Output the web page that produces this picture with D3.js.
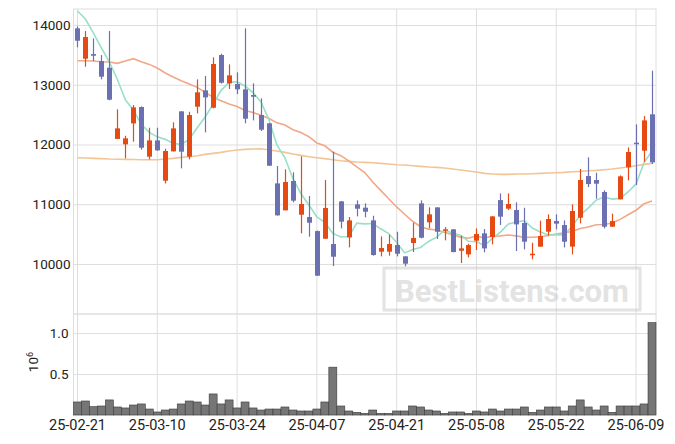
<!DOCTYPE html>
<html><head><meta charset="utf-8">
<script src="https://cdn.jsdelivr.net/npm/d3@7"></script>
<style>
html,body{margin:0;padding:0;background:#fff;}
svg{display:block;font-family:Roboto,"Noto Sans",sans-serif;}
</style></head>
<body><svg id="c" width="675" height="444"></svg>
<script>
const dates = ["2025-02-21","2025-02-24","2025-02-25","2025-02-26","2025-02-27","2025-02-28",
"2025-03-04","2025-03-05","2025-03-06","2025-03-07","2025-03-10","2025-03-11","2025-03-12","2025-03-13","2025-03-14",
"2025-03-17","2025-03-18","2025-03-19","2025-03-20","2025-03-21","2025-03-24","2025-03-25","2025-03-26","2025-03-27","2025-03-28",
"2025-03-31","2025-04-01","2025-04-02","2025-04-03","2025-04-04","2025-04-07","2025-04-08","2025-04-09","2025-04-10","2025-04-11",
"2025-04-14","2025-04-15","2025-04-16","2025-04-17","2025-04-18","2025-04-21","2025-04-22","2025-04-23","2025-04-24","2025-04-25",
"2025-04-28","2025-04-29","2025-04-30","2025-05-02","2025-05-07","2025-05-08","2025-05-09","2025-05-12","2025-05-13","2025-05-14",
"2025-05-15","2025-05-16","2025-05-19","2025-05-20","2025-05-21","2025-05-22","2025-05-23","2025-05-26","2025-05-27","2025-05-28",
"2025-05-29","2025-05-30","2025-06-02","2025-06-04","2025-06-05","2025-06-09","2025-06-10","2025-06-11"];

const open = [13944,13436,13514,13397,13285,12093,12003,12353,12627,11796,12069,11394,11885,12555,11796,
12633,12906,12616,13498,13023,13012,12923,12828,12493,12354,11349,10898,11389,10825,10786,10551,10423,10334,11048,10445,
10998,10942,10730,10206,10206,10317,10128,10351,11015,10697,10948,10560,10580,10222,10161,10390,10513,10451,11070,10926,
10903,10686,10150,10290,10540,10719,10652,10290,10775,11472,11405,11205,10624,11082,11618,12030,11896,12505];
const high = [13977,13899,13776,13497,13899,12588,12147,12660,12638,12281,12281,11930,12371,12555,12549,
13090,13146,13459,13520,13341,13208,13944,13024,12772,12360,11640,11584,11534,11801,11137,10560,11405,11880,11055,10786,
11065,11015,10808,10462,10490,10540,10128,10691,11065,10948,10948,10618,10585,10473,10339,10596,10585,10800,11182,11182,
11032,10942,10356,10725,10831,10831,10730,10998,11590,11785,11528,11233,10842,11483,11952,12337,12476,13236];
const low = [13626,13302,13397,13090,12740,12093,11768,12047,11913,11751,11895,11349,11885,11601,11751,
12521,12203,12605,13020,12929,12845,12354,12404,12226,11640,10810,10898,11032,10513,10457,9800,10423,9966,10596,10278,
10797,10781,10139,10128,10139,10128,9960,10200,10429,10596,10418,10396,10195,10016,10111,10234,10195,10329,10652,10903,
10217,10245,10078,10290,10473,10580,10278,10161,10680,11288,11093,10596,10624,11082,11400,11322,11712,11673];
const close = [13737,13799,13486,13135,12750,12270,12103,12621,11946,12069,11902,11891,12270,11880,12493,
12873,12789,13347,13034,13157,12923,12432,12800,12248,11645,10814,11372,11060,11004,10691,9804,10937,10122,10708,10730,
10925,10875,10150,10267,10334,10172,10005,10435,10440,10831,10540,10580,10200,10261,10317,10502,10261,10797,10792,11004,
10663,10373,10172,10468,10753,10675,10373,10887,11405,11338,11344,10624,10719,11467,11874,12014,12404,11701];
const volume = [0.159,0.171,0.102,0.110,0.184,0.098,0.086,0.122,0.135,0.073,0.037,0.061,0.073,0.135,0.171,
0.159,0.122,0.257,0.135,0.184,0.086,0.159,0.086,0.061,0.073,0.073,0.098,0.061,0.049,0.049,0.073,0.159,0.584,0.110,0.049,
0.033,0.020,0.061,0.020,0.020,0.049,0.049,0.110,0.098,0.061,0.049,0.020,0.037,0.037,0.020,0.049,0.037,0.073,0.049,0.073,
0.073,0.098,0.033,0.061,0.098,0.098,0.049,0.110,0.184,0.098,0.061,0.110,0.033,0.110,0.110,0.110,0.135,1.127];
const ma5 = [14234,14100,13866,13615,13381,13088,12749,12576,12338,12202,12128,12086,12016,12002,12087,
12281,12461,12676,12907,13040,13050,12979,12869,12712,12410,11988,11776,11428,11179,10988,10786,10699,10512,10452,10460,
10684,10672,10678,10589,10510,10360,10186,10243,10277,10377,10450,10565,10518,10482,10380,10372,10308,10428,10534,10671,
10703,10726,10601,10536,10486,10488,10488,10631,10819,10936,11069,11120,11086,11098,11206,11340,11696,11892];
const ma20 = [13403,13403,13397,13386,13380,13358,13397,13436,13386,13341,13280,13196,13130,13068,13012,
12956,12873,12789,12733,12678,12637,12569,12534,12490,12435,12362,12325,12247,12200,12131,12026,11979,11871,11813,11725,
11627,11531,11372,11233,11092,10955,10833,10715,10625,10584,10570,10531,10488,10450,10432,10467,10433,10467,10471,10484,
10471,10446,10447,10457,10478,10503,10522,10544,10593,10618,10658,10660,10686,10747,10825,10900,11007,11053];
const ma60 = [11779,11774,11768,11763,11757,11754,11751,11748,11746,11746,11746,11757,11768,11785,11796,
11813,11835,11852,11868,11891,11908,11919,11924,11930,11908,11891,11868,11840,11818,11796,11779,11763,11746,11729,11718,
11707,11701,11695,11684,11673,11662,11656,11645,11634,11623,11617,11606,11589,11572,11556,11539,11517,11506,11500,11500,
11506,11506,11511,11517,11522,11528,11534,11545,11550,11561,11567,11578,11589,11606,11623,11645,11668,11684];
const tickDates = ["2025-02-21","2025-03-10","2025-03-24","2025-04-07","2025-04-21","2025-05-08","2025-05-22","2025-06-09"];
const priceTicks = [10000,11000,12000,13000,14000];
const volTicks = [0.5,1.0];

const svg = d3.select("#c");
const L = 73.5, R = 656, PT = 9, PB = 314, VT = 314, VB = 415;

const x = d3.scaleBand().domain(dates).range([L, R]).padding(0);
const xc = d => x(d) + x.bandwidth()/2;
const y = d3.scaleLinear().domain([9163, 14268]).range([PB, PT]);
const yv = d3.scaleLinear().domain([0, 1.233]).range([VB, VT]);

const grid = "#dedede";
svg.append("g").attr("transform",`translate(${L},0)`)
  .call(d3.axisLeft(y).tickValues(priceTicks).tickSize(-(R-L)).tickFormat(""))
  .call(g=>{g.select(".domain").remove(); g.selectAll("line").attr("stroke",grid);});
svg.append("g").attr("transform",`translate(${L},0)`)
  .call(d3.axisLeft(yv).tickValues(volTicks).tickSize(-(R-L)).tickFormat(""))
  .call(g=>{g.select(".domain").remove(); g.selectAll("line").attr("stroke",grid);});
svg.append("g").attr("transform",`translate(0,${VB})`)
  .call(d3.axisBottom(x).tickValues(tickDates).tickSize(-(VB-PT)).tickFormat(""))
  .call(g=>{g.select(".domain").remove(); g.selectAll("line").attr("stroke",grid);});
svg.append("rect").attr("x",L).attr("y",PT).attr("width",R-L).attr("height",PB-PT)
  .attr("fill","none").attr("stroke",grid);
svg.append("rect").attr("x",L).attr("y",VT).attr("width",R-L).attr("height",VB-VT)
  .attr("fill","none").attr("stroke",grid);

const idx = d3.range(dates.length);
function line(arr){ return d3.line().x(i=>xc(dates[i])).y(i=>y(arr[i])).curve(d3.curveLinear)(idx); }
svg.append("path").attr("d",line(ma60)).attr("fill","none").attr("stroke","#f2c496").attr("stroke-width",1.6);
svg.append("path").attr("d",line(ma20)).attr("fill","none").attr("stroke","#f0a888").attr("stroke-width",1.6);
svg.append("path").attr("d",line(ma5)).attr("fill","none").attr("stroke","#9adfc8").attr("stroke-width",1.6);

const up = "#e64a12", dn = "#6b70b2";
const bw = 5;
const cg = svg.append("g");
idx.forEach(i=>{
  const c = close[i] >= open[i] ? up : dn;
  const cx = Math.round(xc(dates[i])) + 0.5;
  cg.append("line").attr("x1",cx).attr("x2",cx).attr("y1",y(high[i])).attr("y2",y(low[i]))
    .attr("stroke",c).attr("stroke-width",1.2);
  const t = y(Math.max(open[i],close[i])), b = y(Math.min(open[i],close[i]));
  cg.append("rect").attr("x",cx-bw/2).attr("y",t).attr("width",bw).attr("height",Math.max(1.5,b-t))
    .attr("fill",c);
});

svg.append("g").selectAll("rect").data(idx).join("rect")
  .attr("x",i=>x(dates[i])).attr("width",x.bandwidth())
  .attr("y",i=>yv(volume[i])).attr("height",i=>VB-yv(volume[i]))
  .attr("fill","#767676").attr("stroke","#3a3a3a").attr("stroke-width",0.6);

const fmt = d3.timeFormat("%y-%m-%d"), parse = d3.timeParse("%Y-%m-%d");
const tc = "#222";
svg.append("g").attr("transform",`translate(${L},0)`)
  .call(d3.axisLeft(y).tickValues(priceTicks).tickSize(0).tickPadding(3).tickFormat(d3.format("d")))
  .call(g=>{g.select(".domain").remove(); g.selectAll("text").attr("fill",tc).attr("font-size",13.5).attr("font-family","Roboto");});
svg.append("g").attr("transform",`translate(${L},0)`)
  .call(d3.axisLeft(yv).tickValues(volTicks).tickSize(0).tickPadding(5).tickFormat(d3.format(".1f")))
  .call(g=>{g.select(".domain").remove(); g.selectAll("text").attr("fill",tc).attr("font-size",13.5).attr("font-family","Roboto");});
svg.append("g").attr("transform",`translate(0,${VB})`)
  .call(d3.axisBottom(x).tickValues(tickDates).tickSize(0).tickPadding(5).tickFormat(d=>fmt(parse(d))))
  .call(g=>{g.select(".domain").remove(); g.selectAll("text").attr("fill",tc).attr("font-size",14.5).attr("font-family","Roboto");});
const lab = svg.append("text").attr("transform","translate(38,362) rotate(-90)").attr("text-anchor","middle")
  .attr("fill",tc).attr("font-size",13.5);
lab.append("tspan").text("10");
lab.append("tspan").attr("dy",-5).attr("font-size",9).text("6");

const wm = svg.append("g").attr("opacity",0.5);
wm.append("rect").attr("x",384).attr("y",268).attr("width",256).attr("height",42)
  .attr("fill","#fff").attr("fill-opacity",0.3).attr("stroke","#c8c8c8").attr("stroke-width",3);
wm.append("text").attr("x",512).attr("y",302).attr("text-anchor","middle")
  .attr("font-size",31).attr("font-weight","bold").attr("fill","#c8c8c8").text("BestListens.com");
</script></body></html>
